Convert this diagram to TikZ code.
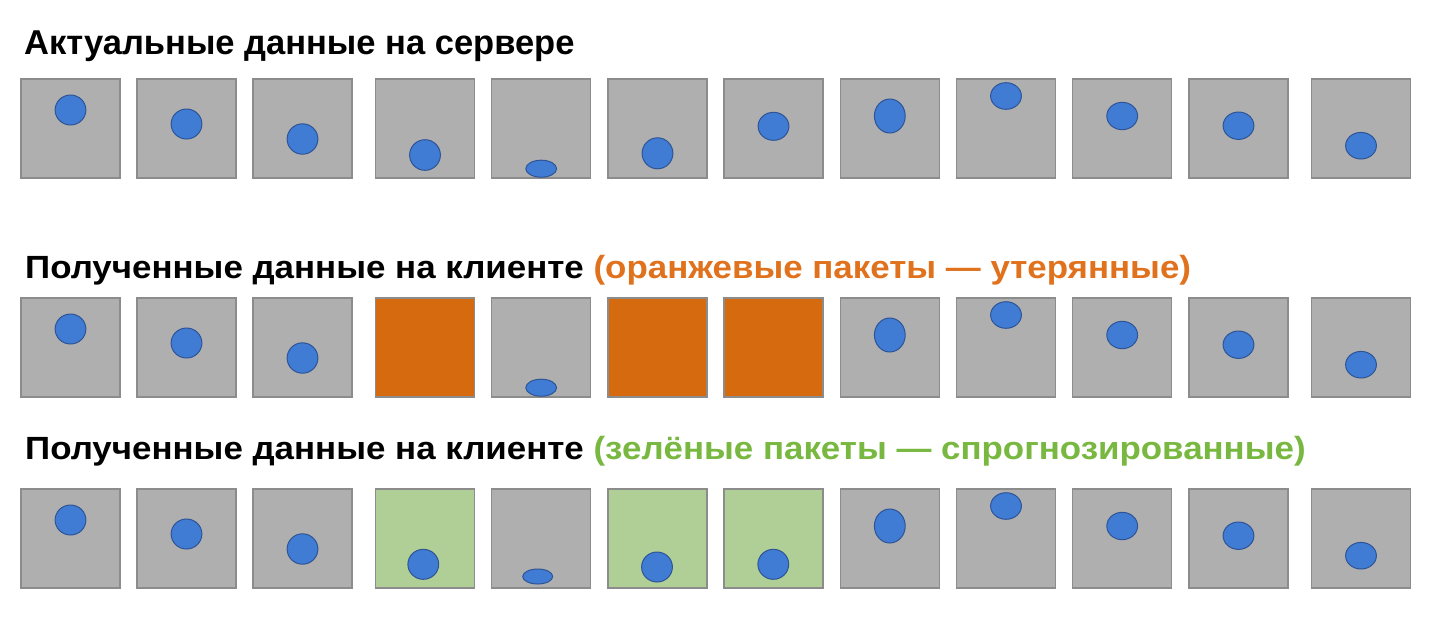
\documentclass[tikz,border=0pt]{standalone}
\usepackage{fontspec}
\setmainfont{Liberation Sans}
\usepackage{tikz}

\definecolor{packetgrey}{RGB}{175,175,175}
\definecolor{packetedge}{RGB}{140,140,140}
\definecolor{lostorange}{RGB}{214,106,14}
\definecolor{guessgreen}{RGB}{176,207,150}
\definecolor{ballblue}{RGB}{64,124,212}
\definecolor{balledge}{RGB}{46,84,150}
\definecolor{losttext}{RGB}{224,114,30}
\definecolor{guesstext}{RGB}{120,184,64}

\tikzset{
  packet/.style = {draw=packetedge, line width=1.2pt, fill=packetgrey},
  lost/.style = {packet, fill=lostorange},
  guess/.style = {packet, fill=guessgreen},
  ball/.style = {draw=balledge, line width=1pt, fill=ballblue},
  caption/.style = {anchor=base west, inner sep=0pt,
    font=\bfseries\fontsize{34.5}{40}\selectfont},
  clientcap/.style = {caption, font=\bfseries\fontsize{34.9}{40}\selectfont}
}

\begin{document}
\begin{tikzpicture}[x=1pt, y=-1pt]
\useasboundingbox (0,0) rectangle (1440,630);

% server row
\node[caption] (server) at (24,54.5) {Актуальные данные на сервере};
\foreach \x/\dy/\ry in {21/31/15, 137/45/15, 253/60/15.2, 375.5/76/15.3,
    491.7/89.7/8.5, 608/74.3/15.5, 724/47.3/14, 840.3/37/17,
    956.5/17/13.3, 1072.7/37/13.7, 1189/46.7/13.7, 1311.5/66.7/13.3} {
  \draw[packet] (\x,79) rectangle ++(99,99);
  \draw[ball] (\x+49.5,79+\dy) ellipse [x radius=15.4pt, y radius=\ry pt];
}

% client row, lost packets
\node[clientcap] (lostcap) at (25,278.3) {\scalebox{1}[0.92]{Полученные данные на клиенте
  \textcolor{losttext}{(оранжевые пакеты — утерянные)}}};
\foreach \x/\dy/\ry in {21/31/15, 137/45/15, 253/60/15.2,
    491.7/89.7/8.5, 840.3/37/17,
    956.5/17/13.3, 1072.7/37/13.7, 1189/46.7/13.7, 1311.5/66.7/13.3} {
  \draw[packet] (\x,298) rectangle ++(99,99);
  \draw[ball] (\x+49.5,298+\dy) ellipse [x radius=15.4pt, y radius=\ry pt];
}
\foreach \x in {375.5, 608, 724}
  \draw[lost] (\x,298) rectangle ++(99,99);

% client row, predicted packets
\node[clientcap] (guesscap) at (25,459.3) {\scalebox{1}[0.92]{Полученные данные на клиенте
  \textcolor{guesstext}{(зелёные пакеты — спрогнозированные)}}};
\foreach \x/\dy/\ry in {21/31/15, 137/45/15, 253/60/15.2, 840.3/37/17,
    956.5/17/13.3, 1072.7/37/13.7, 1189/46.7/13.7, 1311.5/66.7/13.3} {
  \draw[packet] (\x,489) rectangle ++(99,99);
  \draw[ball] (\x+49.5,489+\dy) ellipse [x radius=15.4pt, y radius=\ry pt];
}
\draw[packet] (491.7,489) rectangle ++(99,99);
\draw[ball] (537.7,576.5) ellipse [x radius=15pt, y radius=7.5pt];
\foreach \x/\dx/\dy in {375.5/47.8/75.3, 608/49/78, 724/49.3/75.3} {
  \draw[guess] (\x,489) rectangle ++(99,99);
  \draw[ball] (\x+\dx,489+\dy) ellipse [x radius=15.4pt, y radius=15pt];
}
\end{tikzpicture}
\end{document}
